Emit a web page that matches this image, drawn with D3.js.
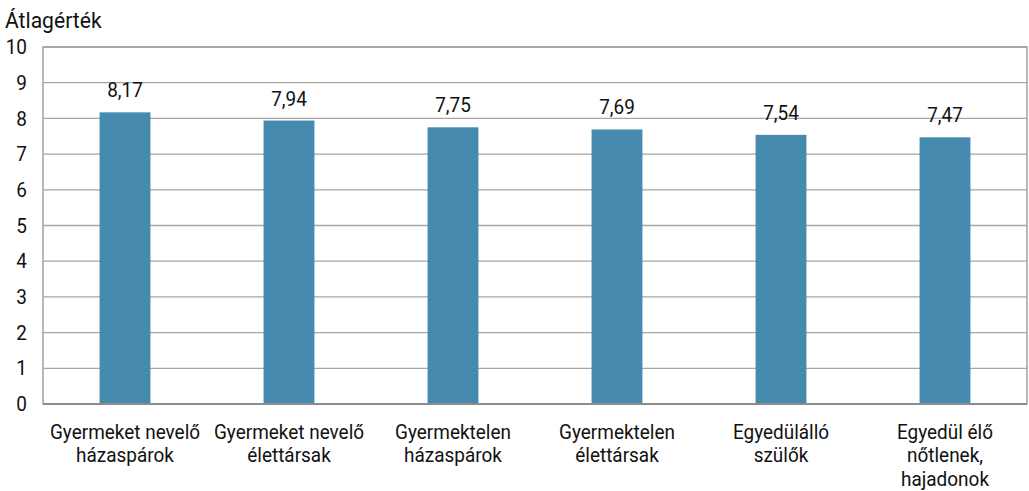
<!DOCTYPE html>
<html>
<head>
<meta charset="utf-8">
<script src="https://cdn.jsdelivr.net/npm/d3@7/dist/d3.min.js"></script>
<style>
  html, body { margin: 0; padding: 0; background: #fff; }
  svg { display: block; font-family: "Roboto", "Noto Sans", sans-serif; }
</style>
</head>
<body>
<svg id="chart" width="1029" height="491"></svg>
<script>
// Household types and their average scores
const categories = [
  ["Gyermeket nevelő", "házaspárok"],
  ["Gyermeket nevelő", "élettársak"],
  ["Gyermektelen", "házaspárok"],
  ["Gyermektelen", "élettársak"],
  ["Egyedülálló", "szülők"],
  ["Egyedül élő", "nőtlenek,", "hajadonok"]
];
const values = [8.17, 7.94, 7.75, 7.69, 7.54, 7.47];
const yTicks = [0, 1, 2, 3, 4, 5, 6, 7, 8, 9, 10];
const yTitle = "Átlagérték";

// narrow the text horizontally to get a condensed face
const SQUEEZE = 0.925;
const FS = 20.5;

const svg = d3.select("#chart");
const margin = { left: 43, right: 2, top: 47, bottom: 87 };
const W = 1029, H = 491;
const x0 = margin.left, x1 = W - margin.right;
const yTop = margin.top, yBot = H - margin.bottom;

const keys = categories.map((c, i) => i);
const x = d3.scaleBand().domain(keys).range([x0, x1]).paddingInner(0.69).paddingOuter(0.345);
const y = d3.scaleLinear().domain([0, 10]).range([yBot, yTop]);

function squeezed(g, px, py, sx = SQUEEZE) {
  return g.append("text")
    .attr("transform", `translate(${px},${py}) scale(${sx},1)`)
    .attr("font-size", FS)
    .attr("fill", "#111");
}

// horizontal gridlines
svg.append("g")
  .selectAll("line")
  .data(yTicks)
  .join("line")
  .attr("x1", x0).attr("x2", x1)
  .attr("y1", d => y(d)).attr("y2", d => y(d))
  .attr("stroke", "#a6a6a6")
  .attr("stroke-width", 1.3);

// frame
svg.append("rect")
  .attr("x", x0).attr("y", yTop)
  .attr("width", x1 - x0).attr("height", yBot - yTop)
  .attr("fill", "none")
  .attr("stroke", "#a0a0a0")
  .attr("stroke-width", 1.5);

// bars
svg.append("g")
  .selectAll("rect")
  .data(values)
  .join("rect")
  .attr("x", (d, i) => x(i))
  .attr("width", x.bandwidth())
  .attr("y", d => y(d))
  .attr("height", d => y(0) - y(d))
  .attr("fill", "#468aaf");

// bottom axis line
svg.append("line")
  .attr("x1", x0).attr("x2", x1)
  .attr("y1", y(0)).attr("y2", y(0))
  .attr("stroke", "#8c8c8c")
  .attr("stroke-width", 2);

// value labels
const gv = svg.append("g");
values.forEach((v, i) => {
  squeezed(gv, x(i) + x.bandwidth() / 2, y(v) - 15)
    .attr("text-anchor", "middle")
    .text(v.toFixed(2).replace(".", ","));
});

// y axis tick labels
const gy = svg.append("g");
yTicks.forEach(t => {
  squeezed(gy, 27, y(t))
    .attr("text-anchor", "end")
    .attr("dy", "0.35em")
    .text(t);
});

// category labels
const gx = svg.append("g");
categories.forEach((lines, i) => {
  const t = squeezed(gx, x(i) + x.bandwidth() / 2, yBot + 35)
    .attr("text-anchor", "middle");
  lines.forEach((ln, j) => {
    t.append("tspan")
      .attr("x", 0)
      .attr("dy", j === 0 ? 0 : 23.5)
      .text(ln);
  });
});

// axis title
squeezed(svg, 5, 28, 0.96)
  .attr("font-size", 22)
  .text(yTitle);
</script>
</body>
</html>
